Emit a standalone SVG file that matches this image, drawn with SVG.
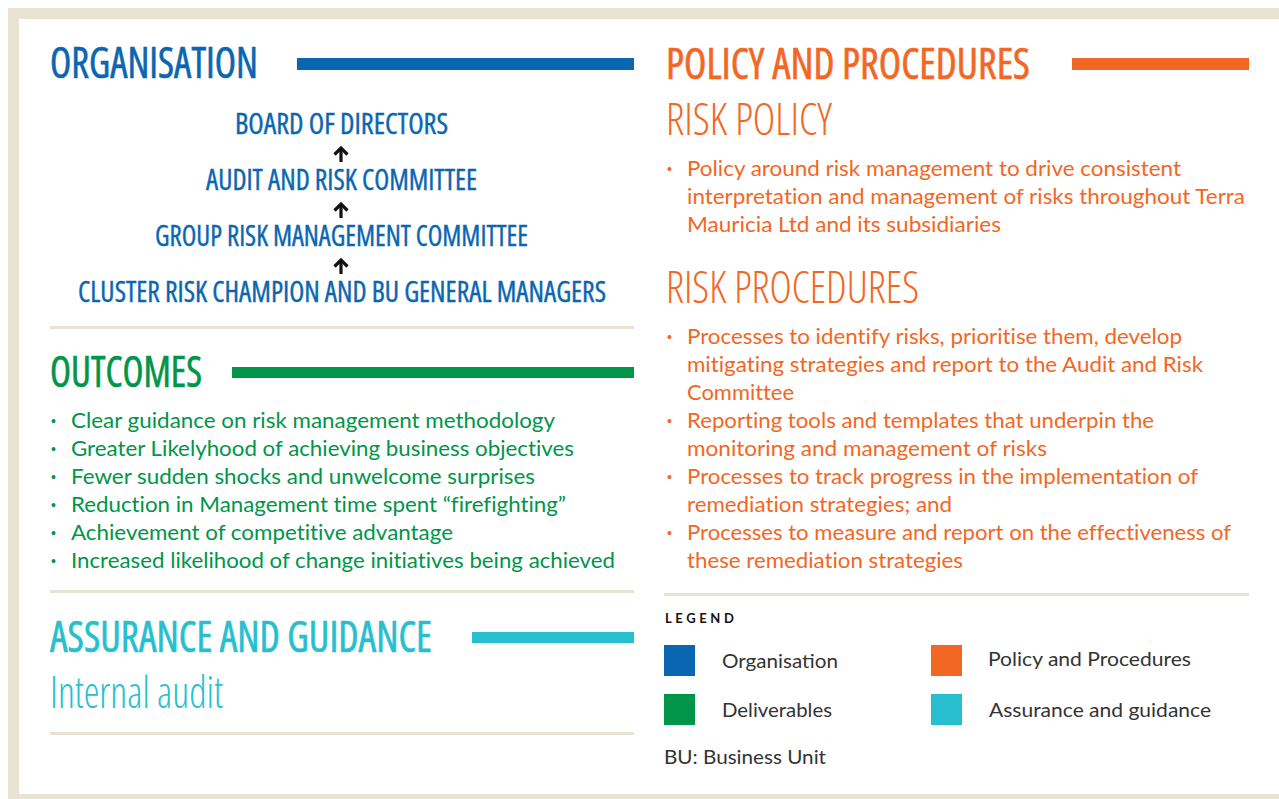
<svg xmlns="http://www.w3.org/2000/svg" width="1279" height="799" viewBox="0 0 1279 799">
<defs>
<style>
.h{font-family:"Liberation Sans Narrow","Open Sans","Liberation Sans",sans-serif;font-stretch:condensed;}
.hb{font-weight:400;font-size:43px;stroke-width:0.6px;}
.hl{font-weight:300;font-size:44px;}
.org{font-size:29px;font-weight:400;fill:#0B66B2;stroke:#0B66B2;stroke-width:0.4px;}
.b{font-family:"Lato","Open Sans","Noto Sans",sans-serif;font-size:21px;font-weight:400;font-variant-ligatures:none;}
.g{fill:#009548;}
.o{fill:#F26724;}
.c{fill:#27BFD0;}
.bl{fill:#0B66B2;}
.hb.g{stroke:#009548;}
.hb.o{stroke:#F26724;}
.hb.c{stroke:#27BFD0;}
.hb.bl{stroke:#0B66B2;}
.lg{font-family:"Lato","Open Sans","Noto Sans",sans-serif;font-size:20px;font-weight:400;fill:#333333;}
.sep{fill:#E8E3D2;}
.dot{font-family:"Liberation Sans",sans-serif;font-size:14px;font-weight:400;}
.arr{stroke:#111;stroke-width:3.2;fill:none;}
</style>
<marker id="ah" viewBox="0 0 10 16" refX="8" refY="8" markerWidth="10" markerHeight="16" markerUnits="userSpaceOnUse" orient="auto">
<path d="M1.5 1.5 L8 8 L1.5 14.5" stroke="#111" stroke-width="3.2" fill="none"/>
</marker>
</defs>
<rect x="8" y="8" width="1290" height="800" fill="#E8E3D2"/>
<rect x="19" y="19" width="1280" height="775" fill="#FFFFFF"/>

<g id="organisation">
<text class="h hb bl" x="50" y="78" textLength="208" lengthAdjust="spacingAndGlyphs">ORGANISATION</text>
<rect x="297" y="58" width="337" height="12" fill="#0B66B2"/>
</g>
<g id="node-board"><text class="h org" x="235" y="134" textLength="213" lengthAdjust="spacingAndGlyphs">BOARD OF DIRECTORS</text></g>
<g id="node-audit"><text class="h org" x="206" y="190" textLength="271" lengthAdjust="spacingAndGlyphs">AUDIT AND RISK COMMITTEE</text></g>
<g id="node-group"><text class="h org" x="155" y="246" textLength="373" lengthAdjust="spacingAndGlyphs">GROUP RISK MANAGEMENT COMMITTEE</text></g>
<g id="node-cluster"><text class="h org" x="78" y="302" textLength="528" lengthAdjust="spacingAndGlyphs">CLUSTER RISK CHAMPION AND BU GENERAL MANAGERS</text></g>
<g id="connectors">
<path class="arr" d="M341 162 V148" marker-end="url(#ah)"/>
<path class="arr" d="M341 218 V204" marker-end="url(#ah)"/>
<path class="arr" d="M341 274 V260" marker-end="url(#ah)"/>
</g>
<rect class="sep" x="50" y="326" width="584" height="3"/>

<g id="outcomes">
<text class="h hb g" x="50" y="387" textLength="152" lengthAdjust="spacingAndGlyphs">OUTCOMES</text>
<rect x="232" y="367" width="402" height="11" fill="#009548"/>
<g class="b g">
<text class="dot" x="51" y="426">•</text><text x="71" y="428" textLength="484" lengthAdjust="spacingAndGlyphs">Clear guidance on risk management methodology</text>
<text class="dot" x="51" y="454">•</text><text x="71" y="456" textLength="503" lengthAdjust="spacingAndGlyphs">Greater Likelyhood of achieving business objectives</text>
<text class="dot" x="51" y="482">•</text><text x="71" y="484" textLength="464" lengthAdjust="spacingAndGlyphs">Fewer sudden shocks and unwelcome surprises</text>
<text class="dot" x="51" y="510">•</text><text x="71" y="512" textLength="495" lengthAdjust="spacingAndGlyphs">Reduction in Management time spent “firefighting”</text>
<text class="dot" x="51" y="538">•</text><text x="71" y="540" textLength="382" lengthAdjust="spacingAndGlyphs">Achievement of competitive advantage</text>
<text class="dot" x="51" y="566">•</text><text x="71" y="568" textLength="544" lengthAdjust="spacingAndGlyphs">Increased likelihood of change initiatives being achieved</text>
</g>
</g>
<rect class="sep" x="50" y="590" width="584" height="3"/>

<g id="assurance">
<text class="h hb c" x="50" y="652" textLength="382" lengthAdjust="spacingAndGlyphs">ASSURANCE AND GUIDANCE</text>
<rect x="472" y="632" width="162" height="11" fill="#27BFD0"/>
<text class="h hl c" x="50" y="708" textLength="173" lengthAdjust="spacingAndGlyphs">Internal audit</text>
</g>
<rect class="sep" x="50" y="732" width="584" height="3"/>

<g id="policy">
<text class="h hb o" x="666" y="79" textLength="364" lengthAdjust="spacingAndGlyphs">POLICY AND PROCEDURES</text>
<rect x="1072" y="58" width="177" height="12" fill="#F26724"/>
<text class="h hl o" x="666" y="135" textLength="166" lengthAdjust="spacingAndGlyphs">RISK POLICY</text>
<g class="b o">
<text class="dot" x="667" y="174">•</text>
<text x="687" y="176" textLength="494" lengthAdjust="spacingAndGlyphs">Policy around risk management to drive consistent</text>
<text x="687" y="204" textLength="558" lengthAdjust="spacingAndGlyphs">interpretation and management of risks throughout Terra</text>
<text x="687" y="232" textLength="314" lengthAdjust="spacingAndGlyphs">Mauricia Ltd and its subsidiaries</text>
</g>
<text class="h hl o" x="666" y="303" textLength="253" lengthAdjust="spacingAndGlyphs">RISK PROCEDURES</text>
<g class="b o">
<text class="dot" x="667" y="342">•</text>
<text x="687" y="344" textLength="495" lengthAdjust="spacingAndGlyphs">Processes to identify risks, prioritise them, develop</text>
<text x="687" y="372" textLength="516" lengthAdjust="spacingAndGlyphs">mitigating strategies and report to the Audit and Risk</text>
<text x="687" y="400" textLength="107" lengthAdjust="spacingAndGlyphs">Committee</text>
<text class="dot" x="667" y="426">•</text>
<text x="687" y="428" textLength="467" lengthAdjust="spacingAndGlyphs">Reporting tools and templates that underpin the</text>
<text x="687" y="456" textLength="360" lengthAdjust="spacingAndGlyphs">monitoring and management of risks</text>
<text class="dot" x="667" y="482">•</text>
<text x="687" y="484" textLength="511" lengthAdjust="spacingAndGlyphs">Processes to track progress in the implementation of</text>
<text x="687" y="512" textLength="265" lengthAdjust="spacingAndGlyphs">remediation strategies; and</text>
<text class="dot" x="667" y="538">•</text>
<text x="687" y="540" textLength="544" lengthAdjust="spacingAndGlyphs">Processes to measure and report on the effectiveness of</text>
<text x="687" y="568" textLength="276" lengthAdjust="spacingAndGlyphs">these remediation strategies</text>
</g>
</g>
<rect class="sep" x="664" y="593" width="585" height="3"/>

<g id="legend">
<text x="665" y="623" font-family="Lato,'Open Sans',sans-serif" font-size="13" font-weight="700" letter-spacing="3.6" fill="#111">LEGEND</text>
<rect x="664" y="645" width="31" height="31" fill="#0B66B2"/>
<text class="lg" x="722" y="668" textLength="116" lengthAdjust="spacingAndGlyphs">Organisation</text>
<rect x="931" y="645" width="31" height="31" fill="#F26724"/>
<text class="lg" x="988" y="666" textLength="203" lengthAdjust="spacingAndGlyphs">Policy and Procedures</text>
<rect x="664" y="694" width="31" height="31" fill="#009548"/>
<text class="lg" x="722" y="717" textLength="110" lengthAdjust="spacingAndGlyphs">Deliverables</text>
<rect x="931" y="694" width="31" height="31" fill="#27BFD0"/>
<text class="lg" x="989" y="717" textLength="222" lengthAdjust="spacingAndGlyphs">Assurance and guidance</text>
<text class="lg" x="664" y="764" textLength="162" lengthAdjust="spacingAndGlyphs">BU: Business Unit</text>
</g>
</svg>
